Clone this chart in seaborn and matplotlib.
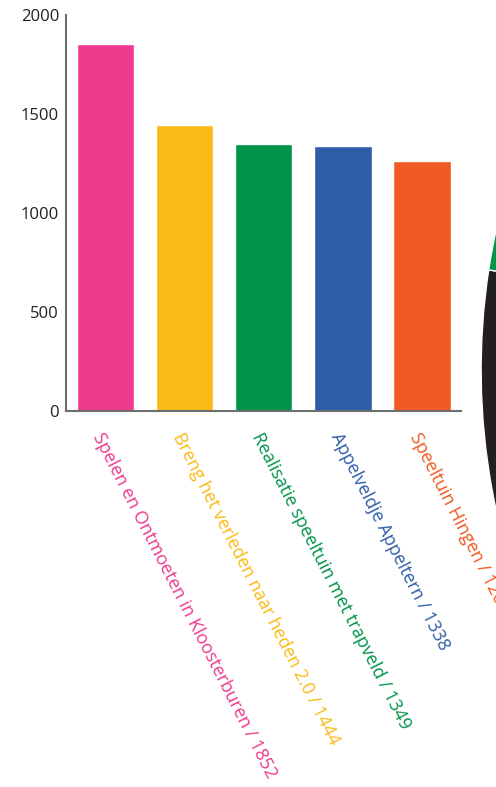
# %%
# import modułów
import pandas as pd
import matplotlib.pyplot as plt
import seaborn as sns

# dane - projecten en aantal stemmen
projecten = ['Spelen en Ontmoeten in Kloosterburen',
             'Breng het verleden naar heden 2.0',
             'Realisatie speeltuin met trapveld',
             'Appelveldje Appeltern',
             'Speeltuin Hingen']
stemmen = [1852, 1444, 1349, 1338, 1262]
kleuren = ['#EE3A8C', '#FBBA16', '#009448', '#2F5DA8', '#F15A22']

# taart rechts (alleen rand zichtbaar)
taart_waarden = [0.85, 0.15]
taart_kleuren = ['#231F20', '#009448']

df = pd.DataFrame({'project': projecten, 'stemmen': stemmen})
labels = [f'{p} / {s}' for p, s in zip(projecten, stemmen)]

# %%
sns.set_style('white')
plt.rcParams['font.family'] = ['Open Sans', 'DejaVu Sans']

fig = plt.figure(figsize=(4.96, 7.87), dpi=100)
ax = fig.add_axes([0.133, 0.478, 0.797, 0.503])

sns.barplot(data=df, x='project', y='stemmen', hue='project',
            palette=kleuren, width=0.73, saturation=1,
            legend=False, ax=ax)

ax.set_ylim(0, 2000)
ax.set_xlim(-0.5, 4.5)
ax.set_yticks([0, 500, 1000, 1500, 2000])
ax.set_xlabel('')
ax.set_ylabel('')

# assen
for s in ['top', 'right']:
    ax.spines[s].set_visible(False)
for s in ['left', 'bottom']:
    ax.spines[s].set_color('#6d6e70')
    ax.spines[s].set_linewidth(1.5)

ax.tick_params(axis='y', direction='in', length=9, width=1.2,
               color='#555555', labelsize=12, labelcolor='#231F20', pad=5)

# streepjes tussen de balken
ax.set_xticks([i - 0.5 for i in range(6)], minor=True)
ax.tick_params(axis='x', which='minor', direction='in', length=7,
               width=1.2, color='#333333')
ax.set_xticks(range(5))
ax.set_xticklabels(labels, rotation=-63, ha='left', va='top',
                   rotation_mode='anchor', fontsize=13, fontweight='medium')
ax.tick_params(axis='x', which='major', length=0, pad=14)
for t, k in zip(ax.get_xticklabels(), kleuren):
    t.set_color(k)

# %%
# taart, grotendeels buiten beeld
ax2 = fig.add_axes([0.970, -0.31, 2.665, 1.68])
ax2.pie(taart_waarden, colors=taart_kleuren, startangle=171.3,
        counterclock=True, radius=1)
ax2.set_xlim(-1, 1)
ax2.set_ylim(-1, 1)
ax2.axis('off')

fig.savefig('out.png', dpi=100)
